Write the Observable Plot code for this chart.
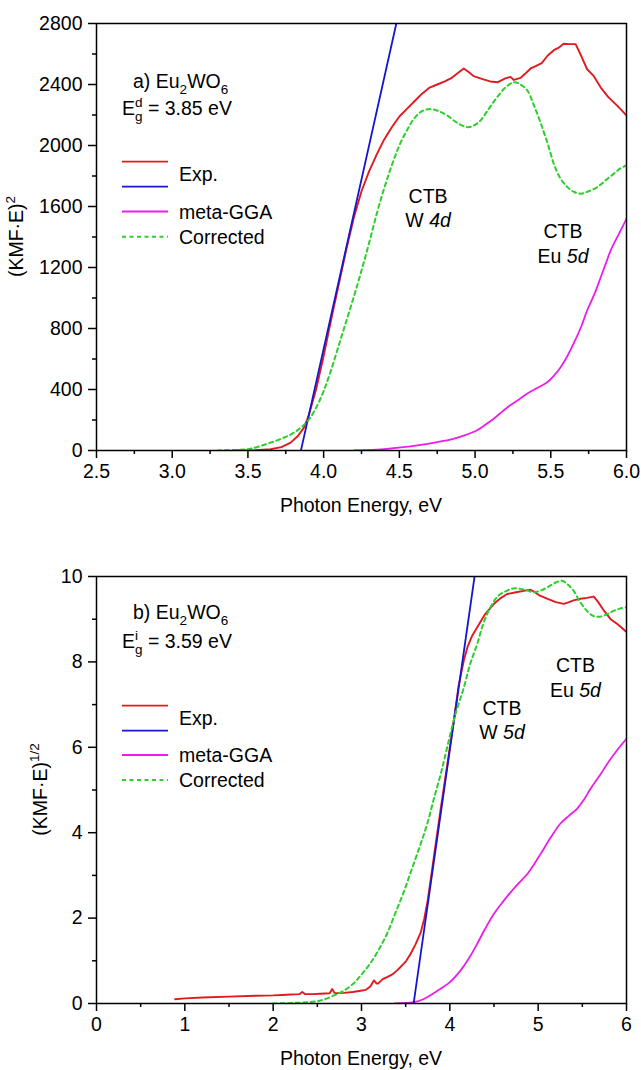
<!DOCTYPE html>
<html>
<head>
<meta charset="utf-8">
<script src="https://cdn.jsdelivr.net/npm/d3@7"></script>
<script src="https://cdn.jsdelivr.net/npm/@observablehq/plot@0.6"></script>
<style>
  body { margin: 0; background: #fff; }
  #chart { width: 641px; }
  #chart svg { display: block; }
</style>
</head>
<body>
<div id="chart"></div>
<script>
const FONT = '"Liberation Sans", Arial, Helvetica, sans-serif';
const FS = 19.5;   // tick labels, titles, legend
const FS_SMALL = 13.5; // sub/superscripts
const COLORS = { exp: "#e01a1f", fit: "#1616d2", mgga: "#ea1eea", corr: "#2ccf2c" };

// ---- (a) direct gap: (KMF·E)^2 ----
const aExpE  = [3.40,3.55,3.65,3.72,3.78,3.83,3.87,3.90,3.95,4.00,4.05,4.10,4.15,4.20,4.25,4.30,4.35,4.40,4.45,4.50,4.55,4.60,4.65,4.70,4.75,4.80,4.84,4.88,4.925,4.96,4.99,5.05,5.10,5.15,5.20,5.234,5.256,5.30,5.33,5.367,5.40,5.44,5.48,5.52,5.55,5.585,5.62,5.664,5.70,5.74,5.78,5.83,5.88,5.94,6.00];
const aExpV  = [0,2,8,22,50,95,150,225,400,620,860,1090,1320,1530,1700,1830,1940,2040,2120,2190,2240,2290,2340,2380,2400,2420,2440,2470,2505,2480,2455,2435,2420,2415,2440,2450,2430,2443,2470,2505,2520,2540,2590,2625,2640,2667,2665,2665,2590,2500,2460,2380,2317,2260,2197];
const aFitE  = [3.85, 4.48];
const aFitV  = [0, 2800];
const aMggaE = [4.20,4.35,4.51,4.63,4.75,4.85,4.925,5.01,5.07,5.125,5.18,5.23,5.29,5.345,5.41,5.477,5.52,5.565,5.61,5.65,5.70,5.74,5.79,5.83,5.865,5.895,5.95,6.00];
const aMggaV = [0,5,20,35,55,75,98,131,170,210,255,295,335,374,410,448,490,546,620,700,810,918,1030,1136,1230,1311,1420,1519];
const aCorrE = [3.30,3.45,3.52,3.63,3.74,3.80,3.85,3.90,3.95,4.00,4.05,4.10,4.15,4.20,4.25,4.30,4.35,4.40,4.45,4.50,4.55,4.60,4.65,4.706,4.76,4.816,4.88,4.95,5.00,5.036,5.09,5.146,5.20,5.256,5.30,5.345,5.39,5.435,5.48,5.52,5.56,5.61,5.655,5.70,5.75,5.807,5.86,5.915,5.96,6.00];
const aCorrV = [0,5,12,45,85,115,150,200,280,390,530,690,850,1010,1180,1360,1550,1720,1870,2000,2100,2180,2225,2240,2225,2197,2150,2120,2135,2164,2240,2317,2380,2415,2400,2361,2260,2142,2010,1880,1790,1727,1695,1684,1700,1727,1770,1814,1850,1869];
const aXTicks = [2.5,3.0,3.5,4.0,4.5,5.0,5.5,6.0];
const aXMinor = [2.75,3.25,3.75,4.25,4.75,5.25,5.75];
const aYTicks = [0,400,800,1200,1600,2000,2400,2800];
const aYMinor = [200,600,1000,1400,1800,2200,2600];

// ---- (b) indirect gap: (KMF·E)^1/2 ----
const bExpE  = [0.89,1.0,1.2,1.5,1.8,2.0,2.1,2.2,2.3,2.33,2.36,2.45,2.536,2.64,2.668,2.69,2.706,2.8,2.9,2.99,3.05,3.10,3.14,3.17,3.19,3.24,3.29,3.35,3.40,3.44,3.50,3.555,3.61,3.67,3.71,3.75,3.79,3.84,3.894,3.95,4.00,4.05,4.10,4.158,4.2,4.25,4.31,4.40,4.50,4.58,4.65,4.75,4.85,4.91,4.95,5.02,5.10,5.20,5.29,5.35,5.40,5.48,5.55,5.63,5.68,5.745,5.82,5.9,6.0];
const bExpV  = [0.10,0.12,0.14,0.16,0.18,0.19,0.20,0.21,0.22,0.27,0.22,0.22,0.23,0.24,0.34,0.26,0.24,0.25,0.27,0.30,0.32,0.40,0.54,0.47,0.47,0.57,0.62,0.68,0.77,0.85,0.98,1.16,1.38,1.66,1.98,2.42,3.0,3.74,4.52,5.3,6.0,6.7,7.45,8.03,8.35,8.6,8.81,9.12,9.36,9.5,9.59,9.63,9.67,9.69,9.65,9.55,9.48,9.40,9.36,9.40,9.44,9.48,9.50,9.53,9.40,9.2,9.0,8.88,8.7];
const bFitE  = [3.59, 4.28];
const bFitV  = [0, 10];
const bMggaE = [3.37,3.59,3.7,3.86,4.0,4.12,4.22,4.31,4.40,4.50,4.60,4.69,4.78,4.88,4.96,5.03,5.14,5.25,5.35,5.44,5.52,5.60,5.71,5.80,5.90,6.0];
const bMggaV = [0,0.03,0.1,0.3,0.5,0.77,1.07,1.40,1.75,2.10,2.38,2.61,2.82,3.04,3.28,3.51,3.88,4.21,4.40,4.56,4.78,5.05,5.38,5.67,5.95,6.2];
const bCorrE = [2.0,2.3,2.536,2.7,2.8,2.91,3.0,3.10,3.2,3.29,3.38,3.48,3.57,3.67,3.75,3.82,3.90,3.97,4.06,4.16,4.23,4.31,4.38,4.46,4.55,4.65,4.72,4.80,4.88,4.95,5.04,5.14,5.20,5.27,5.33,5.40,5.47,5.55,5.62,5.70,5.78,5.86,5.93,6.0];
const bCorrV = [0,0.02,0.07,0.2,0.3,0.47,0.68,0.94,1.28,1.64,2.1,2.62,3.15,3.74,4.25,4.8,5.4,6.0,6.75,7.41,7.95,8.42,8.9,9.28,9.55,9.67,9.72,9.71,9.67,9.63,9.68,9.79,9.86,9.9,9.82,9.67,9.42,9.2,9.08,9.06,9.12,9.2,9.25,9.28];
const bXTicks = [0,1,2,3,4,5,6];
const bXMinor = [0.5,1.5,2.5,3.5,4.5,5.5];
const bYTicks = [0,2,4,6,8,10];
const bYMinor = [1,3,5,7,9];

// Legend entries and band labels
const legendLabels = ["Exp.", "meta-GGA", "Corrected"];
const aBands = [
  { e: 4.693, v: 1620, lines: [["CTB"], ["W ", ["4d", "i"]]] },
  { e: 5.584, v: 1390, lines: [["CTB"], ["Eu ", ["5d", "i"]]] }
];
const bBands = [
  { e: 4.596, v: 6.745, lines: [["CTB"], ["W ", ["5d", "i"]]] },
  { e: 5.428, v: 7.75,  lines: [["CTB"], ["Eu ", ["5d", "i"]]] }
];

const zip = (E, V) => E.map((e, i) => ({ e, v: V[i] }));

// Text with sub/superscript and italic pieces, built from tspans.
function rich(parent, x, y, segs, opts = {}) {
  const t = parent.append("text")
    .attr("x", x).attr("y", y)
    .attr("font-family", FONT).attr("font-size", FS).attr("fill", "#000")
    .attr("text-anchor", opts.anchor || "start");
  if (opts.transform) t.attr("transform", opts.transform).attr("x", 0).attr("y", 0);
  let cur = 0, lastSubW = 0, pendingDx = 0;
  for (const s of segs) {
    const [txt, kind] = typeof s === "string" ? [s, ""] : s;
    let target = 0;
    if (kind === "sub") target = 5.5;
    else if (kind === "sup" || kind === "supStack") target = -8.5;
    const sp = t.append("tspan").text(txt);
    if (target !== cur) sp.attr("dy", target - cur);
    cur = target;
    if (kind === "sub" || kind === "sup" || kind === "supStack") sp.attr("font-size", FS_SMALL);
    if (kind === "i") sp.attr("font-style", "italic");
    if (kind === "supStack") {
      sp.attr("dx", -lastSubW);
      const w = sp.node().getComputedTextLength();
      pendingDx = Math.max(0, lastSubW - w);
    } else if (pendingDx) {
      sp.attr("dx", pendingDx);
      pendingDx = 0;
    }
    if (kind === "sub") lastSubW = sp.node().getComputedTextLength();
  }
  return t;
}

function panel(cfg) {
  const svg = Plot.plot({
    width: 641,
    height: cfg.height,
    marginLeft: 96, marginRight: 15,
    marginTop: cfg.marginTop, marginBottom: cfg.marginBottom,
    style: { fontFamily: FONT, fontSize: FS + "px", color: "#000", background: "#fff", overflow: "visible" },
    x: { domain: cfg.xDomain, label: null },
    y: { domain: cfg.yDomain, label: null },
    marks: [
      Plot.line(cfg.mgga, { x: "e", y: "v", stroke: COLORS.mgga, strokeWidth: 1.8, curve: "catmull-rom", clip: true }),
      Plot.line(cfg.exp,  { x: "e", y: "v", stroke: COLORS.exp,  strokeWidth: 1.9, curve: "linear", clip: true }),
      Plot.line(cfg.fit,  { x: "e", y: "v", stroke: COLORS.fit,  strokeWidth: 1.8, clip: true }),
      Plot.line(cfg.corr, { x: "e", y: "v", stroke: COLORS.corr, strokeWidth: 2, strokeDasharray: "4,3.5", curve: "catmull-rom", clip: true }),
      Plot.frame({ stroke: "#000", strokeWidth: 1.5 }),
      Plot.axisX(cfg.xMinor, { tickSize: 4, tickFormat: () => "", strokeWidth: 1.5, label: null }),
      Plot.axisX(cfg.xTicks, { tickSize: 8, tickPadding: 6, tickFormat: cfg.xFormat, strokeWidth: 1.5, fontSize: FS, label: null }),
      Plot.axisY(cfg.yMinor, { tickSize: 4, tickFormat: () => "", strokeWidth: 1.5, label: null }),
      Plot.axisY(cfg.yTicks, { tickSize: 8, tickPadding: 6, tickFormat: cfg.yFormat, strokeWidth: 1.5, fontSize: FS, label: null })
    ]
  });
  document.getElementById("chart").append(svg);
  const s = d3.select(svg);
  const x = svg.scale("x"), y = svg.scale("y");
  const g = s.append("g");

  // panel tag and gap value
  rich(g, 133, cfg.tagY, cfg.tag);
  rich(g, 122, cfg.gapY, cfg.gap);

  // legend
  const rows = [
    { y: cfg.legendY[0], color: COLORS.exp },
    { y: cfg.legendY[1], color: COLORS.fit },
    { y: cfg.legendY[2], color: COLORS.mgga },
    { y: cfg.legendY[3], color: COLORS.corr, dash: "4,3.5" }
  ];
  for (const r of rows) {
    g.append("line").attr("x1", 122).attr("x2", 168).attr("y1", r.y).attr("y2", r.y)
      .attr("stroke", r.color).attr("stroke-width", r.dash ? 2 : 1.8)
      .attr("stroke-dasharray", r.dash || null);
  }
  const labelY = [(cfg.legendY[0] + cfg.legendY[1]) / 2 + 7, cfg.legendY[2] + 7, cfg.legendY[3] + 7];
  legendLabels.forEach((txt, i) => rich(g, 179, labelY[i], [txt]));

  // conduction band labels
  for (const b of cfg.bands) {
    const px = x.apply(b.e), py = y.apply(b.v);
    b.lines.forEach((ln, i) => rich(g, px, py + i * 24.5, ln, { anchor: "middle" }));
  }

  // axis titles
  rich(g, 361, cfg.height - cfg.marginBottom + 62, ["Photon Energy, eV"], { anchor: "middle" });
  const midY = (cfg.marginTop + cfg.height - cfg.marginBottom) / 2;
  rich(g, 0, 0, cfg.yTitle, { anchor: "middle", transform: `translate(${cfg.yTitleX},${midY}) rotate(-90)` });
}

panel({
  height: 530, marginTop: 23, marginBottom: 80,
  xDomain: [2.5, 6], yDomain: [0, 2800],
  xTicks: aXTicks, xMinor: aXMinor, yTicks: aYTicks, yMinor: aYMinor,
  xFormat: d3.format(".1f"), yFormat: d3.format("d"),
  exp: zip(aExpE, aExpV), fit: zip(aFitE, aFitV), mgga: zip(aMggaE, aMggaV), corr: zip(aCorrE, aCorrV),
  tag: ["a) Eu", ["2", "sub"], "WO", ["6", "sub"]], tagY: 88,
  gap: ["E", ["g", "sub"], ["d", "supStack"], " = 3.85 eV"], gapY: 115,
  legendY: [161.7, 186.7, 211.5, 236.7],
  bands: aBands,
  yTitle: ["(KMF·E)", ["2", "sup"]], yTitleX: 23
});

panel({
  height: 540, marginTop: 46, marginBottom: 67,
  xDomain: [0, 6], yDomain: [0, 10],
  xTicks: bXTicks, xMinor: bXMinor, yTicks: bYTicks, yMinor: bYMinor,
  xFormat: d3.format("d"), yFormat: d3.format("d"),
  exp: zip(bExpE, bExpV), fit: zip(bFitE, bFitV), mgga: zip(bMggaE, bMggaV), corr: zip(bCorrE, bCorrV),
  tag: ["b) Eu", ["2", "sub"], "WO", ["6", "sub"]], tagY: 89,
  gap: ["E", ["g", "sub"], ["i", "supStack"], " = 3.59 eV"], gapY: 118,
  legendY: [175.7, 200.7, 225, 250],
  bands: bBands,
  yTitle: ["(KMF·E)", ["1/2", "sup"]], yTitleX: 47
});
</script>
</body>
</html>
